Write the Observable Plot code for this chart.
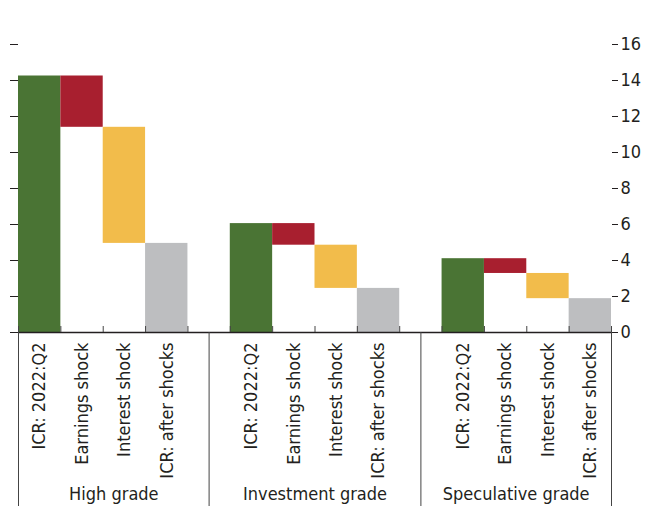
<!DOCTYPE html>
<html>
<head>
<meta charset="utf-8">
<script src="https://cdn.jsdelivr.net/npm/d3@7"></script>
<script src="https://cdn.jsdelivr.net/npm/@observablehq/plot@0.6"></script>
<style>
  html, body { margin: 0; padding: 0; background: #ffffff; }
  #chart svg { display: block; }
</style>
</head>
<body>
<div id="chart"></div>
<script>
// ---- data ----
const groups = ["High grade", "Investment grade", "Speculative grade"];
const categories = ["ICR: 2022:Q2", "Earnings shock", "Interest shock", "ICR: after shocks"];
const icr2022 = [14.25, 6.05, 4.1];
const earningsShock = [-2.85, -1.2, -0.82];
const interestShock = [-6.45, -2.4, -1.4];
const icrAfterShocks = [4.95, 2.45, 1.88];
const yTicks = [0, 2, 4, 6, 8, 10, 12, 14, 16];
const barTypes = ["start", "earnings", "interest", "after"];
const barColors = ["#4a7434", "#a81f2f", "#f2bc4b", "#bdbec0"];

// ---- build table ----
const keyOf = (g, c) => `${g}|${c}`;
const xDomain = [];
groups.forEach((g, i) => {
  categories.forEach(c => xDomain.push(keyOf(g, c)));
  if (i < groups.length - 1) xDomain.push(`gap${i}`);
});
const barKeys = xDomain.filter(k => k.includes("|"));
const gapKeys = xDomain.filter(k => !k.includes("|"));
const firstKeys = groups.map(g => keyOf(g, categories[0]));
const lastKeys = groups.map(g => keyOf(g, categories[categories.length - 1]));

const bars = [];
groups.forEach((g, i) => {
  const s = icr2022[i];
  const e = s + earningsShock[i];
  const r = e + interestShock[i];
  bars.push({key: keyOf(g, categories[0]), y1: 0, y2: s, type: "start"});
  bars.push({key: keyOf(g, categories[1]), y1: e, y2: s, type: "earnings"});
  bars.push({key: keyOf(g, categories[2]), y1: r, y2: e, type: "interest"});
  bars.push({key: keyOf(g, categories[3]), y1: 0, y2: icrAfterShocks[i], type: "after"});
});

const W = 651, H = 506, ML = 18, MR = 40, MT = 44, MB = 174;
const bw = (W - ML - MR) / xDomain.length;
const font = "'Liberation Sans Narrow', 'Arial Narrow', 'DejaVu Sans Condensed', sans-serif";
const ink = "#231f20";

// group label: centred between the separator lines around each group
const groupLabelMarks = groups.map((g, i) => {
  const start = xDomain.indexOf(firstKeys[i]);
  const end = xDomain.indexOf(lastKeys[i]);
  const left = i === 0 ? start : start - 0.5;
  const right = i === groups.length - 1 ? end + 1 : end + 1.5;
  const dx = ((left + right) / 2 - (start + 0.5)) * bw;
  return Plot.text([g], {x: () => firstKeys[i], y: () => 0, dx, dy: 162,
    text: d => d, fontSize: 18, textAnchor: "middle", fill: ink});
});

const chart = Plot.plot({
  width: W, height: H,
  marginLeft: ML, marginRight: MR, marginTop: MT, marginBottom: MB,
  style: {fontFamily: font, fontSize: "18px", color: ink, background: "#ffffff"},
  x: {type: "band", domain: xDomain, padding: 0, round: false, axis: null, label: null},
  y: {domain: [0, 16], axis: null, label: null},
  color: {domain: barTypes, range: barColors},
  marks: [
    Plot.barY(bars, {x: "key", y1: "y1", y2: "y2", fill: "type"}),
    Plot.axisY(yTicks, {anchor: "right", tickSize: 6, tickPadding: 3, label: null, fontSize: 18, stroke: ink}),
    Plot.axisY(yTicks, {anchor: "left", tickSize: 8, tickFormat: () => "", label: null, stroke: ink}),
    Plot.axisX(barKeys, {anchor: "bottom", tickSize: 0, tickRotate: -90, tickPadding: 10,
      tickFormat: k => k.split("|")[1], label: null, fontSize: 18}),
    Plot.ruleY([0], {stroke: ink, strokeWidth: 1.5}),
    Plot.ruleX(barKeys, {x: d => d, y1: 0, y2: 0, insetBottom: 6, dx: -bw / 2, stroke: "#444"}),
    Plot.ruleX(lastKeys, {x: d => d, y1: 0, y2: 0, insetBottom: 6, dx: bw / 2, stroke: "#444"}),
    Plot.ruleX(gapKeys, {x: d => d, y1: 0, y2: 0, insetBottom: -(MB), stroke: "#444"}),
    Plot.ruleX([barKeys[0]], {x: d => d, y1: 0, y2: 0, insetBottom: -(MB), dx: -bw / 2, stroke: "#444"}),
    Plot.ruleX([barKeys[barKeys.length - 1]], {x: d => d, y1: 0, y2: 0, insetBottom: -(MB), dx: bw / 2, stroke: "#444"}),
    ...groupLabelMarks
  ]
});
document.getElementById("chart").appendChild(chart);
</script>
</body>
</html>
